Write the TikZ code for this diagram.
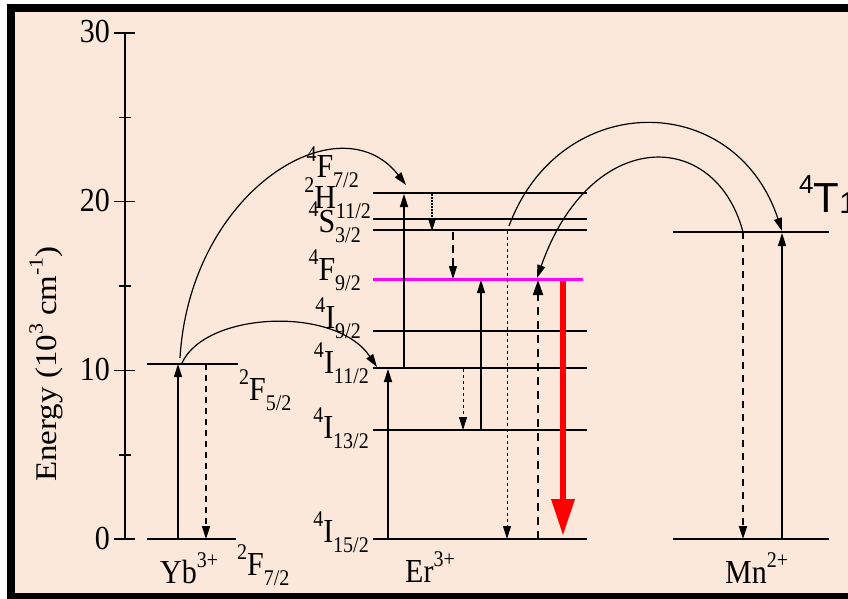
\documentclass[tikz,border=0pt]{standalone}
\usepackage{fontspec}
\setmainfont{Liberation Serif}
\newfontfamily\arialfont{Liberation Sans}
\usetikzlibrary{arrows.meta}
\definecolor{peach}{RGB}{252,232,218}
\definecolor{magline}{RGB}{255,0,255}
\newcommand\Up[1]{\raisebox{0.45em}{\fontsize{20}{20}\selectfont #1}}
\newcommand\Dn[1]{\raisebox{-0.3em}{\fontsize{20}{20}\selectfont #1}}
\newcommand\Tx[1]{\scalebox{1}[1.12]{#1}}
\begin{document}
\begin{tikzpicture}[x=1pt,y=-1pt,
  txt/.style={font=\fontsize{30}{31}\selectfont, inner sep=0pt},
  lvl/.style={line width=2pt},
  lvlthin/.style={line width=1.3pt},
  tip/.style={-{Triangle[length=13pt,width=8pt]}},
  bigtip/.style={-{Triangle[length=15pt,width=10pt]}},
  solidarr/.style={line width=1.5pt, tip},
  dasharr/.style={line width=1.5pt, dash pattern=on 7pt off 5pt, tip},
  finedash/.style={line width=1pt, dash pattern=on 3pt off 3pt, tip},
  dotarr/.style={line width=1.2pt, dash pattern=on 1.5pt off 1.5pt, tip},
  curvearr/.style={line width=1.2pt, tip}]
\useasboundingbox (0,0) rectangle (848,599);
\fill[white] (0,0) rectangle (848,599);
\fill[black] (7,4) rectangle (870,620);
\fill[peach] (15,12) rectangle (870,593);

% axis
\draw[line width=1.5pt] (125,33) -- (125,539);
\foreach \yy in {33,201.6,370.3,539} \draw[line width=1.5pt] (114,\yy) -- (135,\yy);
\foreach \yy in {117.4,286,455} \draw[line width=1.5pt] (119,\yy) -- (131,\yy);
\node[txt, anchor=base east] (t30) at (110,43) {\Tx{30}};
\node[txt, anchor=base east] (t20) at (110,211.6) {\Tx{20}};
\node[txt, anchor=base east] (t10) at (110,380.3) {\Tx{10}};
\node[txt, anchor=base east] (t0) at (110,549) {\Tx{0}};
\node[txt, rotate=90, anchor=base] (ylab) at (56,364) {\scalebox{1.1}[1]{Energy (10\Up{3} cm\Up{-1})}};

% Yb levels
\draw[lvlthin] (147,539) -- (236,539);
\draw[lvlthin] (147,364) -- (238,364);
\coordinate (yb0a) at (178,539); \coordinate (yb1a) at (178,364);
\coordinate (yb1b) at (206,364); \coordinate (yb0b) at (206,539);
\draw[solidarr] (yb0a) -- (yb1a);
\draw[dasharr, dash pattern=on 6pt off 5pt] (yb1b) -- (yb0b);
\node[txt, anchor=base west] (lybF52) at (239,400) {\Tx{\Up{2}F\Dn{5/2}}};
\node[txt, anchor=base west] (lybF72) at (237,575) {\Tx{\Up{2}F\Dn{7/2}}};
\node[txt, anchor=base west] (lyb) at (160,583) {\Tx{Yb\Up{3+}}};

% Er levels
\foreach \yy in {193,219,230,331,368,430,539} \draw[lvl] (373,\yy) -- (587,\yy);
\draw[line width=3pt, magline] (373,279) -- (583,279);
\node[txt, anchor=base east] (lF72) at (359,177) {\Tx{\Up{4}F\Dn{7/2}}};
\node[txt, anchor=base east] (lH112) at (371,208) {\Tx{\Up{2}H\Dn{11/2}}};
\node[txt, anchor=base east] (lS32) at (361,232) {\Tx{\Up{4}S\Dn{3/2}}};
\node[txt, anchor=base east] (lF92) at (361,280) {\Tx{\Up{4}F\Dn{9/2}}};
\node[txt, anchor=base east] (lI92) at (361,328) {\Tx{\Up{4}I\Dn{9/2}}};
\node[txt, anchor=base east] (lI112) at (369,373) {\Tx{\Up{4}I\Dn{11/2}}};
\node[txt, anchor=base east] (lI132) at (369,438) {\Tx{\Up{4}I\Dn{13/2}}};
\node[txt, anchor=base east] (lI152) at (369,542) {\Tx{\Up{4}I\Dn{15/2}}};
\node[txt, anchor=base west] (ler) at (405,582) {\Tx{Er\Up{3+}}};

\coordinate (e1a) at (388,539); \coordinate (e1b) at (388,369);
\coordinate (e2a) at (404,368); \coordinate (e2b) at (404,194);
\coordinate (e3a) at (432,194); \coordinate (e3b) at (432,231);
\coordinate (e4a) at (453,232); \coordinate (e4b) at (453,279);
\coordinate (e5a) at (463,369); \coordinate (e5b) at (463,430);
\coordinate (e6a) at (481,430); \coordinate (e6b) at (481,280);
\coordinate (e7a) at (507,231); \coordinate (e7b) at (507,539);
\coordinate (e8a) at (538,539); \coordinate (e8b) at (538,280);
\coordinate (e9a) at (563,281); \coordinate (e9b) at (563,536);
\draw[solidarr] (e1a) -- (e1b);
\draw[solidarr] (e2a) -- (e2b);
\draw[dotarr] (e3a) -- (e3b);
\draw[dasharr, line width=1.3pt, dash pattern=on 8pt off 5pt] (e4a) -- (e4b);
\draw[finedash] (e5a) -- (e5b);
\draw[solidarr] (e6a) -- (e6b);
\draw[finedash] (e7a) -- (e7b);
\draw[line width=2pt, dash pattern=on 8pt off 6pt, bigtip] (e8a) -- (e8b);
\draw[red, line width=6.5pt, -{Triangle[length=37pt,width=22pt]}] (e9a) -- (e9b);

% Mn levels
\draw[lvlthin] (673,232) -- (829,232);
\draw[lvlthin] (673,539) -- (829,539);
\coordinate (m1a) at (743,232); \coordinate (m1b) at (743,539);
\coordinate (m2a) at (782,539); \coordinate (m2b) at (782,233);
\draw[line width=2pt, dash pattern=on 7pt off 6pt, tip] (m1a) -- (m1b);
\draw[solidarr] (m2a) -- (m2b);
\node[txt, anchor=base west] (lmn) at (725,583) {\Tx{Mn\Up{2+}}};
\node[inner sep=0pt, anchor=base west, font=\arialfont\fontsize{42}{44}\selectfont] (lT1) at (799,212)
  {\raisebox{0.45em}{\fontsize{26}{26}\selectfont 4}T\raisebox{-1pt}{\fontsize{30}{30}\selectfont 1}};

% energy transfer curves
\coordinate (c1a) at (180,358); \coordinate (c1b) at (406,185);
\coordinate (c2a) at (182,363); \coordinate (c2b) at (377,367);
\coordinate (c3a) at (509,226); \coordinate (c3b) at (782,231);
\coordinate (c4a) at (743,232); \coordinate (c4b) at (537,278);
\draw[curvearr] (c1a) .. controls (190,190) and (340,100) .. (c1b);
\draw[curvearr] (c2a) .. controls (205,312) and (335,305) .. (c2b);
\draw[curvearr] (c3a) .. controls (560,89) and (735,89) .. (c3b);
\draw[curvearr] (c4a) .. controls (715,127) and (590,127) .. (c4b);
\end{tikzpicture}
\end{document}
